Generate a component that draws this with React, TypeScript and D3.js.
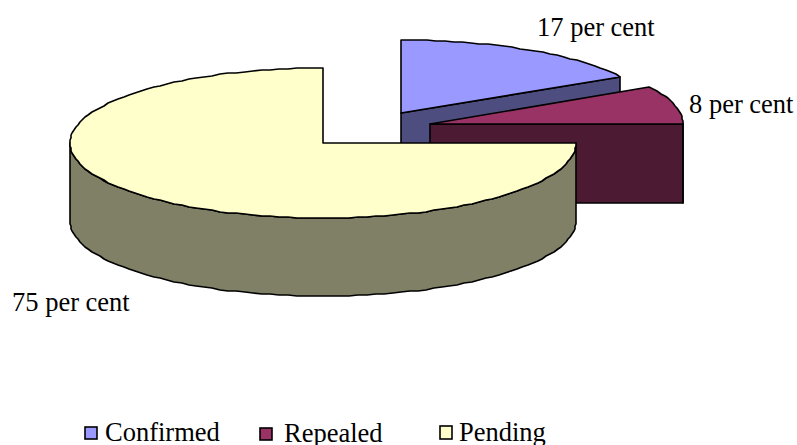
import * as d3 from 'd3';
import React from 'react';

const categories = ['Confirmed', 'Repealed', 'Pending'];
const shares = [16.67, 8.33, 75];
const sliceLabels = ['17 per cent', '8 per cent', '75 per cent'];
const topColours = ['#9999ff', '#993366', '#ffffcc'];
const sideColours = ['#4d4d80', '#4d1a33', '#808066'];

const w = 797;
const h = 445;
const rx = 253;
const fontFamily = '"Liberation Serif", "Times New Roman", serif';

// the slices are pulled apart, so each one has its own centre: cx, cy, ry, depth
const centres = [
  [401, 113, 73, 78],
  [430, 124, 75, 79],
  [323, 143, 75, 78],
];
const labelPos = [
  [537, 36],
  [689, 113],
  [12, 311],
];
// swatch x, y, width, height, then text x, y
const legendPos = [
  [85, 427, 12, 12, 105, 441],
  [260, 428, 12, 12, 284, 442],
  [440, 426, 12, 13, 459, 441],
];

const outline = d3.line();

// sample an elliptical rim, rounded to whole pixels like the original renderer
function rim(cx: number, cy: number, ry: number, a0: number, a1: number): [number, number][] {
  const steps = Math.max(1, Math.ceil((a1 - a0) / 0.035));
  const angle = d3.scaleLinear().domain([0, steps]).range([a0, a1]);
  return d3.range(steps + 1).map((i) => {
    const a = angle(i);
    return [Math.round(cx + rx * Math.sin(a)), Math.round(cy - ry * Math.cos(a))];
  });
}

export default function App() {
  const slices = d3.pie<number>().sort(null)(shares);

  const marks = slices.map((s, i) => {
    const [cx, cy, ry, depth] = centres[i];
    const top = rim(cx, cy, ry, s.startAngle, s.endAngle);
    const topPath = outline([[cx, cy], ...top]) + 'Z';

    // outer wall only where the rim faces the viewer
    const wallStart = Math.max(s.startAngle, Math.PI / 2);
    const wallEnd = Math.min(s.endAngle, (3 * Math.PI) / 2);
    let wallPath = null;
    if (wallEnd > wallStart) {
      const upper = rim(cx, cy, ry, wallStart, wallEnd);
      const lower = upper.map(([x, y]) => [x, y + depth] as [number, number]).reverse();
      wallPath = outline([...upper, ...lower]) + 'Z';
    }

    // cut face at the end of the slice, hidden when it looks away
    let facePath = null;
    if (s.endAngle < Math.PI) {
      const end = rim(cx, cy, ry, s.endAngle, s.endAngle)[0];
      facePath =
        outline([
          [cx, cy],
          end,
          [end[0], end[1] + depth],
          [cx, cy + depth],
        ]) + 'Z';
    }

    return (
      <g key={categories[i]} stroke='#000' strokeWidth={1.6} strokeLinejoin='round'>
        {facePath && <path d={facePath} fill={sideColours[i]} />}
        {wallPath && <path d={wallPath} fill={sideColours[i]} />}
        <path d={topPath} fill={topColours[i]} />
      </g>
    );
  });

  return (
    <svg
      width={w}
      height={h}
      style={{ position: 'absolute', left: 0, top: 0, backgroundColor: 'white' }}>
      {marks}
      <g style={{ font: `26.5px ${fontFamily}` }} fill='#000'>
        {sliceLabels.map((t, i) => (
          <text key={t} x={labelPos[i][0]} y={labelPos[i][1]}>
            {t}
          </text>
        ))}
      </g>
      <g style={{ font: `26.5px ${fontFamily}` }}>
        {categories.map((c, i) => {
          const [bx, by, bw, bh, tx, ty] = legendPos[i];
          return (
            <g key={c}>
              <rect x={bx} y={by} width={bw} height={bh} fill={topColours[i]} stroke='#000' strokeWidth={1.6} />
              <text x={tx} y={ty} fill='#000'>
                {c}
              </text>
            </g>
          );
        })}
      </g>
    </svg>
  );
}
